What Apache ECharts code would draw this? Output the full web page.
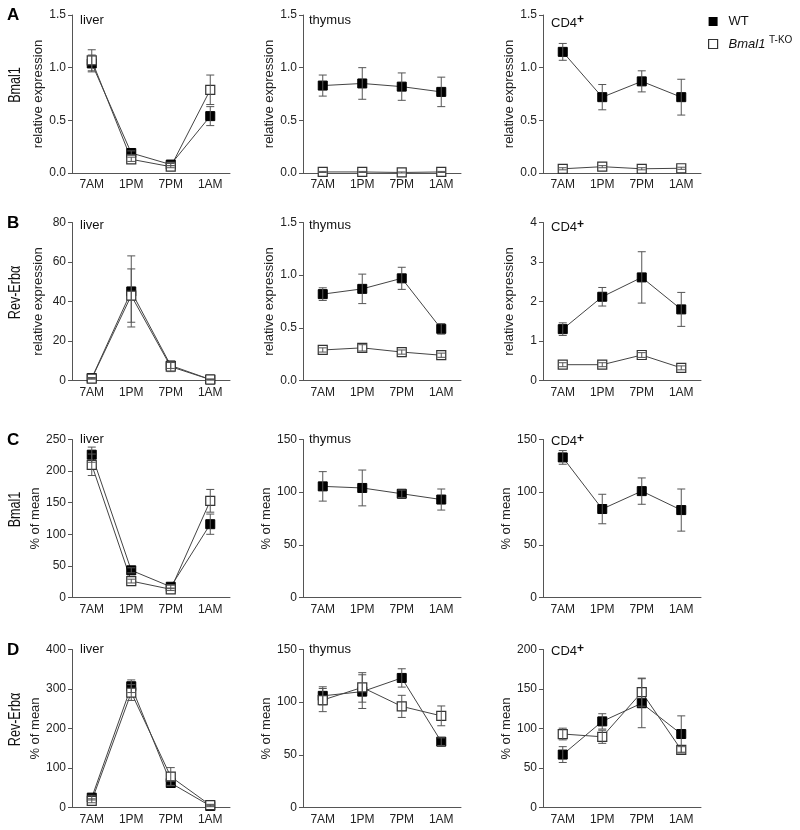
<!DOCTYPE html>
<html>
<head>
<meta charset="utf-8">
<script src="https://cdn.jsdelivr.net/npm/echarts@6/dist/echarts.min.js"></script>
<style>
  html, body { margin: 0; padding: 0; background: #fff; }
  #chart { width: 800px; height: 830px; }
</style>
</head>
<body>
<div id="chart"></div>
<script>
const times = ['7AM', '1PM', '7PM', '1AM']

// A: Bmal1, relative expression
const bmalLiverWT = [1.04, 0.19, 0.08, 0.54]
const bmalLiverWTErr = [0.08, 0.02, 0.01, 0.09]
const bmalLiverKO = [1.07, 0.13, 0.06, 0.79]
const bmalLiverKOErr = [0.10, 0.02, 0.01, 0.14]
const bmalThymusWT = [0.83, 0.85, 0.82, 0.77]
const bmalThymusWTErr = [0.10, 0.15, 0.13, 0.14]
const bmalThymusKO = [0.01, 0.01, 0.005, 0.01]
const bmalThymusKOErr = [0.005, 0.005, 0.005, 0.005]
const bmalCd4WT = [1.15, 0.72, 0.87, 0.72]
const bmalCd4WTErr = [0.08, 0.12, 0.10, 0.17]
const bmalCd4KO = [0.04, 0.06, 0.04, 0.045]
const bmalCd4KOErr = [0.01, 0.01, 0.01, 0.01]

// B: Rev-Erbα, relative expression
const revLiverWT = [1.2, 45.1, 7.6, 0.5]
const revLiverWTErr = [0.3, 18, 1.5, 0.2]
const revLiverKO = [1.0, 43, 7, 0.5]
const revLiverKOErr = [0.3, 13.5, 2.5, 0.2]
const revThymusWT = [0.82, 0.87, 0.97, 0.49]
const revThymusWTErr = [0.06, 0.14, 0.105, 0.05]
const revThymusKO = [0.29, 0.31, 0.27, 0.24]
const revThymusKOErr = [0.02, 0.03, 0.02, 0.02]
const revCd4WT = [1.3, 2.12, 2.61, 1.8]
const revCd4WTErr = [0.16, 0.235, 0.65, 0.43]
const revCd4KO = [0.4, 0.4, 0.645, 0.32]
const revCd4KOErr = [0.05, 0.05, 0.06, 0.05]

// C: Bmal1, % of mean
const bmalPctLiverWT = [226, 43, 17, 116]
const bmalPctLiverWTErr = [12, 4, 3, 16]
const bmalPctLiverKO = [210, 26, 13, 153]
const bmalPctLiverKOErr = [17, 3, 2, 18]
const bmalPctThymusWT = [105.5, 104, 98.5, 93]
const bmalPctThymusWTErr = [14, 17, 3.5, 10]
const bmalPctCd4WT = [133, 84, 101, 83]
const bmalPctCd4WTErr = [6.5, 14, 12.5, 20]

// D: Rev-Erbα, % of mean
const revPctLiverWT = [25, 307, 62, 4]
const revPctLiverWTErr = [6, 16, 6, 2]
const revPctLiverKO = [17, 291, 78, 6]
const revPctLiverKOErr = [5, 20, 23, 2]
const revPctThymusWT = [106, 110, 123, 62.5]
const revPctThymusWTErr = [8.6, 16, 8.7, 3.6]
const revPctThymusKO = [102, 114, 96, 87]
const revPctThymusKOErr = [11, 14, 10.5, 9.4]
const revPctCd4WT = [67, 109, 132, 93]
const revPctCd4WTErr = [10, 9.7, 31, 23]
const revPctCd4KO = [93, 89.5, 146, 73]
const revPctCd4KOErr = [7.4, 8.3, 17.8, 4]

const rowLabels = ['Bmal1', 'Rev-Erbα', 'Bmal1', 'Rev-Erbα']
const rowLetters = ['A', 'B', 'C', 'D']
const tissues = ['liver', 'thymus', 'CD4+']

const FONT = 'Liberation Sans, Arial, Helvetica, sans-serif'
const colLeft = [72, 303, 543]
const rowTop = [15, 222.5, 439.5, 649.5]
const titleDy = [-1, -4, -7, -7]
const plotW = 158
const plotH = 158

// 面板配置
const panels = [
  { r: 0, c: 0, max: 1.5, step: 0.5, dec: 1, wt: bmalLiverWT, wtErr: bmalLiverWTErr, ko: bmalLiverKO, koErr: bmalLiverKOErr },
  { r: 0, c: 1, max: 1.5, step: 0.5, dec: 1, wt: bmalThymusWT, wtErr: bmalThymusWTErr, ko: bmalThymusKO, koErr: bmalThymusKOErr },
  { r: 0, c: 2, max: 1.5, step: 0.5, dec: 1, wt: bmalCd4WT, wtErr: bmalCd4WTErr, ko: bmalCd4KO, koErr: bmalCd4KOErr },
  { r: 1, c: 0, max: 80, step: 20, dec: 0, wt: revLiverWT, wtErr: revLiverWTErr, ko: revLiverKO, koErr: revLiverKOErr },
  { r: 1, c: 1, max: 1.5, step: 0.5, dec: 1, wt: revThymusWT, wtErr: revThymusWTErr, ko: revThymusKO, koErr: revThymusKOErr },
  { r: 1, c: 2, max: 4, step: 1, dec: 0, wt: revCd4WT, wtErr: revCd4WTErr, ko: revCd4KO, koErr: revCd4KOErr },
  { r: 2, c: 0, max: 250, step: 50, dec: 0, wt: bmalPctLiverWT, wtErr: bmalPctLiverWTErr, ko: bmalPctLiverKO, koErr: bmalPctLiverKOErr },
  { r: 2, c: 1, max: 150, step: 50, dec: 0, wt: bmalPctThymusWT, wtErr: bmalPctThymusWTErr },
  { r: 2, c: 2, max: 150, step: 50, dec: 0, wt: bmalPctCd4WT, wtErr: bmalPctCd4WTErr },
  { r: 3, c: 0, max: 400, step: 100, dec: 0, wt: revPctLiverWT, wtErr: revPctLiverWTErr, ko: revPctLiverKO, koErr: revPctLiverKOErr },
  { r: 3, c: 1, max: 150, step: 50, dec: 0, wt: revPctThymusWT, wtErr: revPctThymusWTErr, ko: revPctThymusKO, koErr: revPctThymusKOErr },
  { r: 3, c: 2, max: 200, step: 50, dec: 0, wt: revPctCd4WT, wtErr: revPctCd4WTErr, ko: revPctCd4KO, koErr: revPctCd4KOErr }
]

// 误差线
const renderErr = (params, api) => {
  const p1 = api.coord([api.value(0), api.value(2)])
  const p2 = api.coord([api.value(0), api.value(1)])
  const w = 4
  const style = { stroke: '#555', lineWidth: 1 }
  return {
    type: 'group',
    children: [
      { type: 'line', shape: { x1: p1[0], y1: p1[1], x2: p2[0], y2: p2[1] }, style },
      { type: 'line', shape: { x1: p1[0] - w, y1: p1[1], x2: p1[0] + w, y2: p1[1] }, style },
      { type: 'line', shape: { x1: p2[0] - w, y1: p2[1], x2: p2[0] + w, y2: p2[1] }, style }
    ]
  }
}

const grid = []
const xAxis = []
const yAxis = []
const series = []
const title = []

const wtStyle = { color: '#000', borderColor: '#000', borderWidth: 1 }
const koStyle = { color: '#fff', borderColor: '#333', borderWidth: 1.2 }

panels.forEach((p, i) => {
  grid.push({ left: colLeft[p.c], top: rowTop[p.r], width: plotW, height: plotH })
  xAxis.push({
    type: 'category',
    gridIndex: i,
    data: times,
    boundaryGap: true,
    axisLine: { lineStyle: { color: '#555', width: 1 } },
    axisTick: { alignWithLabel: true, length: 4, lineStyle: { color: '#555' } },
    axisLabel: { color: '#222', fontSize: 12, fontFamily: FONT, margin: 6 }
  })
  yAxis.push({
    type: 'value',
    gridIndex: i,
    min: 0,
    max: p.max,
    interval: p.step,
    name: p.r < 2 ? 'relative expression' : '% of mean',
    nameLocation: 'middle',
    nameGap: 27,
    nameTextStyle: { color: '#222', fontSize: 13, fontFamily: FONT },
    splitLine: { show: false },
    axisLine: { show: true, lineStyle: { color: '#555', width: 1 } },
    axisTick: { show: true, length: 4, lineStyle: { color: '#555' } },
    axisLabel: {
      color: '#222', fontSize: 12, fontFamily: FONT, margin: 6,
      formatter: v => v.toFixed(p.dec)
    }
  })
  const tissue = tissues[p.c]
  title.push({
    text: tissue === 'CD4+' ? '{a|CD4}{b|+}' : tissue,
    left: colLeft[p.c] + (p.c === 1 ? 6 : 8),
    top: rowTop[p.r] + titleDy[p.r],
    padding: 0,
    textStyle: {
      fontSize: 13, fontWeight: 'normal', color: '#111', fontFamily: FONT,
      rich: {
        a: { fontSize: 13, color: '#111', fontFamily: FONT },
        b: { fontSize: 12, fontWeight: 'bold', color: '#111', fontFamily: FONT, padding: [0, 0, 6, 0] }
      }
    }
  })
  const groups = [['WT', p.wt, p.wtErr, wtStyle]]
  if (p.ko) groups.push(['Bmal1 T-KO', p.ko, p.koErr, koStyle])
  groups.forEach(([name, vals, errs, style]) => {
    series.push({
      name,
      type: 'line',
      xAxisIndex: i,
      yAxisIndex: i,
      data: vals,
      symbol: 'rect',
      symbolSize: 9,
      lineStyle: { color: '#444', width: 1 },
      itemStyle: style,
      emphasis: { disabled: true },
      animation: false,
      z: 2
    })
    series.push({
      name: name + ' err',
      type: 'custom',
      xAxisIndex: i,
      yAxisIndex: i,
      renderItem: renderErr,
      encode: { x: 0, y: [1, 2] },
      data: vals.map((v, k) => [k, Math.max(0, v - errs[k]), v + errs[k]]),
      clip: false,
      animation: false,
      z: 3
    })
  })
})

// 行标签与字母
const graphic = []
rowLetters.forEach((letter, r) => {
  graphic.push({
    type: 'text', left: 7, top: rowTop[r] - 8,
    style: { text: letter, font: 'bold 17px ' + FONT, fill: '#000' }
  })
  graphic.push({
    type: 'text',
    x: 15,
    y: rowTop[r] + 70,
    rotation: Math.PI / 2,
    scaleX: 0.74,
    style: { text: rowLabels[r], font: '17px ' + FONT, fill: '#111', align: 'center', verticalAlign: 'middle' }
  })
})

const chart = echarts.init(document.getElementById('chart'))
chart.setOption({
  backgroundColor: '#fff',
  animation: false,
  textStyle: { fontFamily: FONT },
  title,
  grid,
  xAxis,
  yAxis,
  series,
  graphic,
  legend: {
    left: 703,
    top: 10,
    orient: 'vertical',
    itemWidth: 9,
    itemHeight: 9,
    itemGap: 7,
    icon: 'rect',
    selectedMode: false,
    data: [
      { name: 'WT', itemStyle: { color: '#000', borderWidth: 0 } },
      { name: 'Bmal1 T-KO', itemStyle: { color: '#fff', borderColor: '#333', borderWidth: 1.2 } }
    ],
    formatter: name => name === 'WT' ? '{n|WT}' : '{i|Bmal1} {s|T-KO}',
    textStyle: {
      color: '#111', fontSize: 13, fontFamily: FONT,
      rich: {
        n: { fontSize: 13, padding: [0, 0, 0, 6], fontFamily: FONT },
        i: { fontSize: 13, fontStyle: 'italic', padding: [0, 0, 0, 6], fontFamily: FONT },
        s: { fontSize: 10, padding: [0, 0, 8, 0], fontFamily: FONT }
      }
    }
  }
})
</script>
</body>
</html>
